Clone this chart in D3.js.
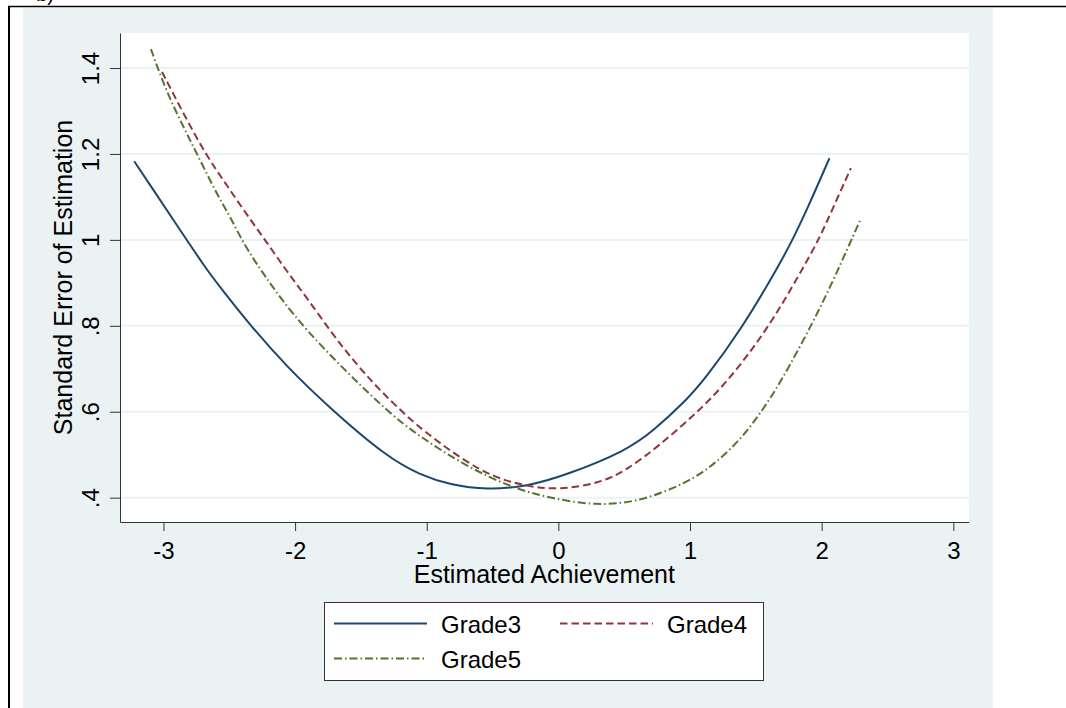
<!DOCTYPE html>
<html>
    <head>
        <meta charset="utf-8" />
        <title>Standard Error of Estimation</title>
        <script src="https://d3js.org/d3.v7.min.js"></script>
        <style>
            body {
                margin: 0;
                background: #ffffff;
            }
            * {
                font-family: 'Liberation Sans', Arial, sans-serif;
            }
            .curve {
                fill: none;
                stroke-width: 2px;
            }
            .axis path,
            .axis line {
                stroke: #333333;
            }
            .axis text {
                font-size: 24px;
                fill: #000000;
            }
        </style>
    </head>
    <body>
        <script>
            // values
            const grade3 = [
                [-3.222, 1.183], [-3.078, 1.117], [-2.926, 1.047], [-2.664, 0.927], [-2.571, 0.891],
                [-2.343, 0.802], [-2.064, 0.705], [-1.735, 0.608], [-1.304, 0.495], [-1.051, 0.453],
                [-0.823, 0.43], [-0.544, 0.418], [-0.24, 0.426], [0.064, 0.453], [0.52, 0.51],
                [0.72, 0.555], [0.976, 0.628], [1.102, 0.672], [1.381, 0.787], [1.685, 0.945],
                [1.786, 1.005], [1.888, 1.07], [2.059, 1.19]
            ];
            const grade4 = [
                [-3.011, 1.391], [-2.85, 1.295], [-2.672, 1.195], [-2.52, 1.128], [-2.368, 1.059],
                [-2.216, 0.995], [-2.064, 0.927], [-1.912, 0.866], [-1.71, 0.778], [-1.558, 0.72],
                [-1.406, 0.666], [-1.254, 0.62], [-1.051, 0.56], [-0.57, 0.453], [-0.24, 0.426],
                [0.013, 0.418], [0.317, 0.434], [0.52, 0.464], [0.773, 0.523], [1.077, 0.604],
                [1.305, 0.678], [1.584, 0.79], [1.837, 0.922], [1.989, 1.007], [2.09, 1.077],
                [2.222, 1.167]
            ];
            const grade5 = [
                [-3.095, 1.444], [-3.002, 1.365], [-2.9, 1.295], [-2.799, 1.233], [-2.698, 1.171],
                [-2.584, 1.101], [-2.495, 1.055], [-2.419, 1.008], [-2.33, 0.962], [-2.254, 0.927],
                [-1.963, 0.8], [-1.304, 0.6], [-1.051, 0.542], [-0.696, 0.472], [-0.342, 0.422],
                [-0.063, 0.399], [0.292, 0.381], [0.621, 0.391], [0.976, 0.434], [1.178, 0.476],
                [1.381, 0.534], [1.533, 0.596], [1.685, 0.666], [1.938, 0.81], [2.09, 0.907],
                [2.191, 0.976], [2.293, 1.046]
            ];
            const seriesNames = ['Grade3', 'Grade4', 'Grade5'];
            const xTicks = [-3, -2, -1, 0, 1, 2, 3];
            const xTickLabels = ['-3', '-2', '-1', '0', '1', '2', '3'];
            const yTicks = [0.4, 0.6, 0.8, 1, 1.2, 1.4];
            const yTickLabels = ['.4', '.6', '.8', '1', '1.2', '1.4'];

            const W = 1066, H = 708;
            const plot = { left: 120, right: 968.7, top: 33, bottom: 522 };

            const svg = d3.select('body').append('svg').attr('width', W).attr('height', H);

            // page frame
            svg.append('rect').attr('x', 23).attr('y', 8).attr('width', 970).attr('height', H - 8).attr('fill', '#eaf2f3');
            svg.append('line').attr('x1', 9).attr('x2', 9).attr('y1', 6).attr('y2', H).attr('stroke', '#000').attr('stroke-width', 2);
            svg.append('line').attr('x1', 8).attr('x2', W).attr('y1', 6.5).attr('y2', 6.5).attr('stroke', '#000').attr('stroke-width', 1.6);
            svg.append('text').attr('x', 54).attr('y', 1).attr('text-anchor', 'end').style('font-size', '20px').text('b)');

            // plot region
            svg.append('rect')
                .attr('x', plot.left)
                .attr('y', plot.top)
                .attr('width', plot.right - plot.left)
                .attr('height', plot.bottom - plot.top)
                .attr('fill', '#ffffff');

            const x = d3.scaleLinear().domain([-3.33, 3.117]).range([plot.left, plot.right]);
            const y = d3.scaleLinear().domain([0.3434, 1.4815]).range([plot.bottom, plot.top]);

            // gridlines
            svg.append('g')
                .selectAll('line')
                .data(yTicks)
                .join('line')
                .attr('x1', plot.left)
                .attr('x2', plot.right)
                .attr('y1', (d) => y(d))
                .attr('y2', (d) => y(d))
                .attr('stroke', '#eaf2f3')
                .attr('stroke-width', 2);

            // curves
            const colors = ['#1a476f', '#90353b', '#55752f'];
            const dashes = [null, '7.5,4', '8,3,1.5,3'];
            const line = d3
                .line()
                .x((d) => x(d[0]))
                .y((d) => y(d[1]))
                .curve(d3.curveBasis);

            [grade3, grade4, grade5].forEach((data, i) => {
                svg.append('path')
                    .datum(data)
                    .attr('class', 'curve')
                    .attr('d', line)
                    .attr('stroke', colors[i])
                    .attr('stroke-dasharray', dashes[i]);
            });

            // axes
            const yAxis = svg
                .append('g')
                .attr('class', 'axis')
                .attr('transform', `translate(${plot.left},0)`)
                .call(
                    d3.axisLeft(y)
                        .tickValues(yTicks)
                        .tickFormat((d, i) => yTickLabels[i])
                        .tickSize(10)
                        .tickSizeOuter(0)
                );
            yAxis.selectAll('.tick text')
                .attr('x', null)
                .attr('dy', null)
                .attr('text-anchor', 'middle')
                .attr('transform', 'translate(-21,0) rotate(-90)');

            const xAxis = svg
                .append('g')
                .attr('class', 'axis')
                .attr('transform', `translate(0,${plot.bottom})`)
                .call(
                    d3.axisBottom(x)
                        .tickValues(xTicks)
                        .tickFormat((d, i) => xTickLabels[i])
                        .tickSize(9)
                        .tickSizeOuter(0)
                );
            xAxis.selectAll('.tick text').attr('y', 37).attr('dy', null);

            // axis titles
            svg.append('text')
                .attr('x', (plot.left + plot.right) / 2)
                .attr('y', 583)
                .attr('text-anchor', 'middle')
                .style('font-size', '25px')
                .text('Estimated Achievement');
            svg.append('text')
                .attr('transform', `translate(72,${(plot.top + plot.bottom) / 2}) rotate(-90)`)
                .attr('text-anchor', 'middle')
                .style('font-size', '25px')
                .text('Standard Error of Estimation');

            // legend
            const legend = svg.append('g');
            legend.append('rect')
                .attr('x', 324.5)
                .attr('y', 602.5)
                .attr('width', 439)
                .attr('height', 78)
                .attr('fill', '#ffffff')
                .attr('stroke', '#333333')
                .attr('stroke-width', 1);
            const slots = [
                { lx: 334, ly: 623.5 },
                { lx: 560, ly: 623.5 },
                { lx: 334, ly: 658.5 }
            ];
            seriesNames.forEach((name, i) => {
                const s = slots[i];
                legend.append('line')
                    .attr('x1', s.lx)
                    .attr('x2', s.lx + 93)
                    .attr('y1', s.ly)
                    .attr('y2', s.ly)
                    .attr('stroke', colors[i])
                    .attr('stroke-width', 2)
                    .attr('stroke-dasharray', dashes[i]);
                legend.append('text')
                    .attr('x', s.lx + 107)
                    .attr('y', s.ly + 9.5)
                    .style('font-size', '24px')
                    .text(name);
            });
        </script>
    </body>
</html>
